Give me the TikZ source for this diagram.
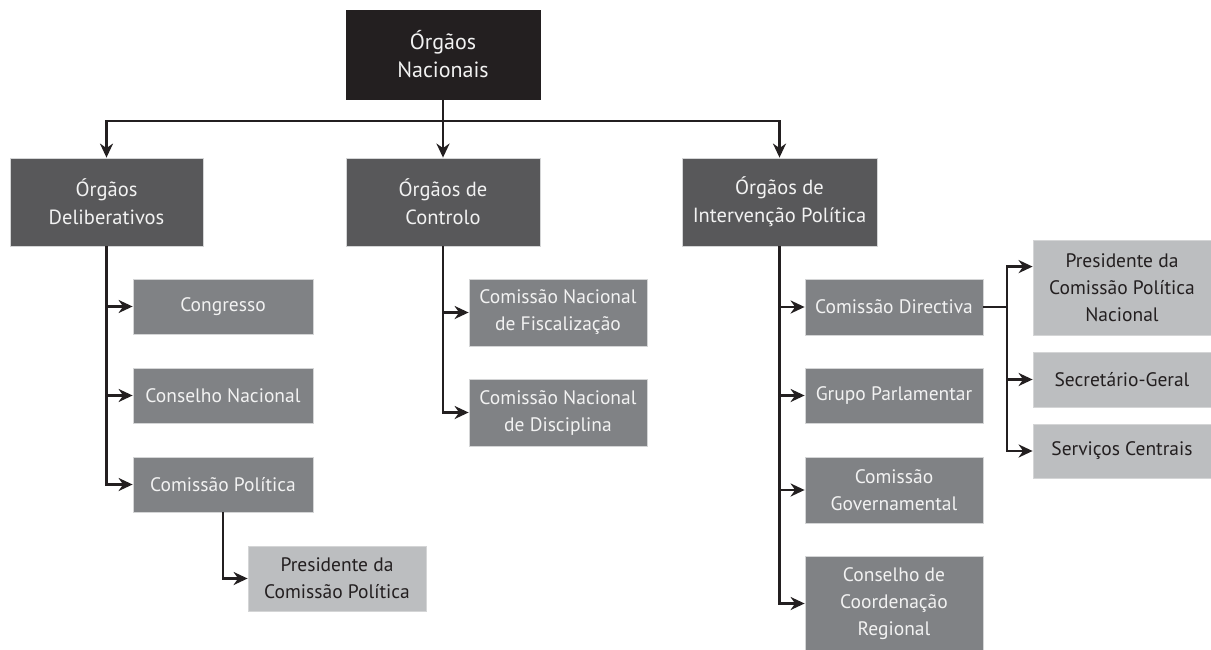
\documentclass[tikz,border=0pt]{standalone}
\usepackage{fontspec}
\setmainfont{PT Sans}
\usetikzlibrary{arrows.meta,calc}
\definecolor{cblack}{HTML}{231F20}
\definecolor{cdark}{HTML}{58585A}
\definecolor{cmid}{HTML}{808285}
\definecolor{clight}{HTML}{BCBEC0}
\definecolor{cedge}{HTML}{D4D5D6}
\definecolor{ctext}{HTML}{F2F2F2}
\tikzset{
  box/.style={rectangle, draw=cedge, line width=0.8pt, align=center, inner sep=0pt,
    font=\fontsize{19.5}{27}\selectfont, text=ctext},
  topbox/.style={box, fill=cblack, draw=cblack, font=\fontsize{22}{28}\selectfont},
  lvtwo/.style={box, fill=cdark, font=\fontsize{20.5}{28}\selectfont},
  lvthree/.style={box, fill=cmid},
  lvfour/.style={box, fill=clight, text=cblack},
  conn/.style={draw=cblack, line width=2.4pt, line join=miter,
    -{Stealth[length=14pt,width=13pt,inset=4.5pt]}},
  plain/.style={draw=cblack, line width=2.4pt, line join=miter},
}
\begin{document}
\begin{tikzpicture}[x=1pt,y=-1pt]
\useasboundingbox (0,0) rectangle (1211,650);
\fill[white] (0,0) rectangle (1211,650);
% level 1
\node[topbox, minimum width=194pt, minimum height=89pt] (nac) at (443,54.5) {Órgãos\\Nacionais};
% level 2
\node[lvtwo, minimum width=193pt, minimum height=88pt] (del) at (106.5,202) {Órgãos\\Deliberativos};
\node[lvtwo, minimum width=194pt, minimum height=88pt] (con) at (443,202) {Órgãos de\\Controlo};
\node[lvtwo, minimum width=195pt, minimum height=88pt] (int) at (779.5,202) {Órgãos de\\Intervenção Política};
% level 3 - deliberativos
\node[lvthree, minimum width=180pt, minimum height=55pt] (cong) at (223,306.5) {Congresso};
\node[lvthree, minimum width=180pt, minimum height=55pt] (cnac) at (223,395.5) {Conselho Nacional};
\node[lvthree, minimum width=180pt, minimum height=55pt] (cpol) at (223,484.5) {Comissão Política};
\node[lvfour, minimum width=178pt, minimum height=65pt] (pcp) at (337,578.5) {Presidente da\\Comissão Política};
% level 3 - controlo
\node[lvthree, minimum width=178pt, minimum height=67pt] (fisc) at (558,312.5) {Comissão Nacional\\de Fiscalização};
\node[lvthree, minimum width=178pt, minimum height=67pt] (disc) at (558,412.5) {Comissão Nacional\\de Disciplina};
% level 3 - intervencao
\node[lvthree, minimum width=178pt, minimum height=56pt] (dir) at (894,307) {Comissão Directiva};
\node[lvthree, minimum width=178pt, minimum height=55pt] (grp) at (894,395.5) {Grupo Parlamentar};
\node[lvthree, minimum width=178pt, minimum height=66pt] (gov) at (894,490) {Comissão\\Governamental};
\node[lvthree, minimum width=178pt, minimum height=95pt] (ccr) at (894,603.5) {Conselho de\\Coordenação\\Regional};
% level 4 - directiva
\node[lvfour, minimum width=178pt, minimum height=95pt] (pcpn) at (1122,287.5) {Presidente da\\Comissão Política\\Nacional};
\node[lvfour, minimum width=178pt, minimum height=55pt] (sec) at (1122,379.5) {Secretário-Geral};
\node[lvfour, minimum width=178pt, minimum height=54pt] (serv) at (1122,451) {Serviços Centrais};
% connectors
\coordinate (bus) at (443,121);
\coordinate (jd) at (1007,307);
\draw[conn] (nac.south) -- (con.north);
\draw[conn] (bus) -| (del.north);
\draw[conn] (bus) -| (int.north);
\draw[conn] (del.south) |- (cong.west);
\draw[conn] (del.south) |- (cnac.west);
\draw[conn] (del.south) |- (cpol.west);
\draw[conn] (cpol.south) |- (pcp.west);
\draw[conn] (con.south) |- (fisc.west);
\draw[conn] (con.south) |- (disc.west);
\draw[conn] (int.south) |- (dir.west);
\draw[conn] (int.south) |- (grp.west);
\draw[conn] (int.south) |- (gov.west);
\draw[conn] (int.south) |- (ccr.west);
\draw[plain] (dir.east) -- (jd);
\draw[conn] (jd) |- ($(pcpn.north west)+(0,27)$);
\draw[conn] (jd) |- (sec.west);
\draw[conn] (jd) |- (serv.west);
\end{tikzpicture}
\end{document}
